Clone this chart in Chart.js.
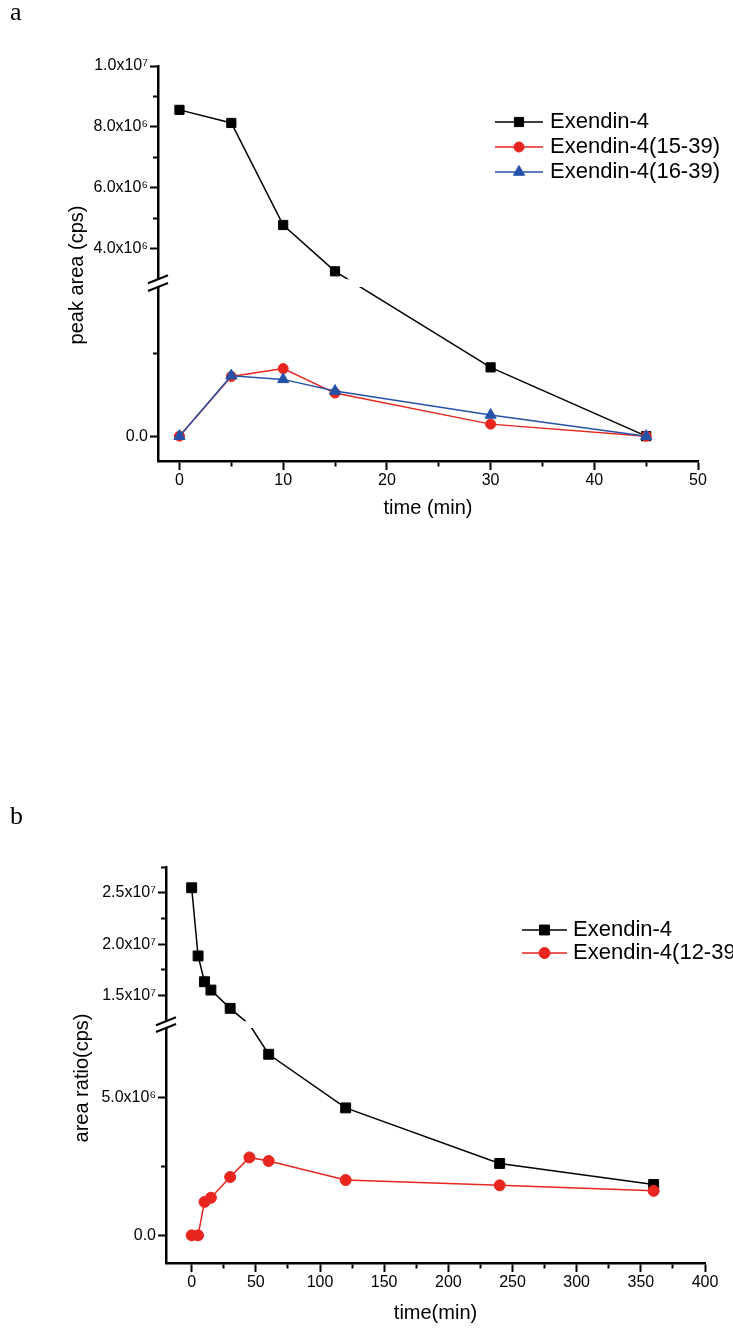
<!DOCTYPE html>
<html>
<head>
<meta charset="utf-8">
<script src="https://cdn.jsdelivr.net/npm/chart.js@4.4.1/dist/chart.umd.min.js"></script>
<style>
  body { margin: 0; background: #fff; }
  #page { position: relative; width: 733px; height: 1330px; }
  canvas { position: absolute; left: 0; }
  .tag { position: absolute; left: 10px; font: 26px 'Liberation Serif', 'DejaVu Serif', serif; line-height: 26px; }
</style>
</head>
<body>
<div id="page">
  <canvas id="chartA" width="733" height="540" style="top:0"></canvas>
  <canvas id="chartB" width="733" height="530" style="top:800px"></canvas>
  <div class="tag" style="top:-1px">a</div>
  <div class="tag" style="top:803px">b</div>
</div>
<script>
// panel a: peak area vs time
const aTime = [0, 5, 10, 15, 30, 45];
const aExendin4 = [8.56e6, 8.13e6, 4.78e6, 3.26e6, 0.83e6, 0];
const aExendin15to39 = [0, 0.72e6, 0.815e6, 0.52e6, 0.145e6, 0];
const aExendin16to39 = [0, 0.73e6, 0.685e6, 0.545e6, 0.255e6, 0];

const aXTicks = [0, 5, 10, 15, 20, 25, 30, 35, 40, 45, 50];
const aXLabels = ['0', '', '10', '', '20', '', '30', '', '40', '', '50'];
const aYTicks = [0, 1e6, 4e6, 5e6, 6e6, 7e6, 8e6, 9e6, 1e7];
const aYLabels = ['0.0', '', '4.0x10⁶', '', '6.0x10⁶', '', '8.0x10⁶', '', '1.0x10⁷'];

// panel b: area ratio vs time
const bTime = [0, 5, 10, 15, 30, 45, 60, 120, 240, 360];
const bExendin4 = [2.548e7, 1.885e7, 1.634e7, 1.553e7, 1.375e7, 1.0e7, 6.55e6, 4.61e6, 2.60e6, 1.84e6];
const bExendin12to39 = [0, 0, 1.21e6, 1.36e6, 2.11e6, 2.82e6, 2.69e6, 2.00e6, 1.81e6, 1.61e6];

const bXTicks = [0, 25, 50, 75, 100, 125, 150, 175, 200, 225, 250, 275, 300, 325, 350, 375, 400];
const bXLabels = ['0', '', '50', '', '100', '', '150', '', '200', '', '250', '', '300', '', '350', '', '400'];
const bYTicks = [0, 2.5e6, 5e6, 1.5e7, 1.75e7, 2e7, 2.25e7, 2.5e7, 2.75e7];
const bYLabels = ['0.0', '', '5.0x10⁶', '1.5x10⁷', '', '2.0x10⁷', '', '2.5x10⁷', ''];

const RED = '#e8251f';
const BLUE = '#2452a8';
const FONT = "'Liberation Sans', Arial, sans-serif";

Chart.defaults.font.family = FONT;
Chart.defaults.color = '#000';

// linear axis with a break: lower and upper segments, small gap between
class BrokenScale extends Chart.LinearScale {
  breakPixels() {
    const b = this.options.broken;
    const h = this.bottom - this.top;
    const lowTop = this.bottom - h * b.lowerFrac;
    const upBottom = lowTop - h * b.gapFrac;
    return { lowTop, upBottom };
  }
  getPixelForValue(value) {
    if (value === null || value === undefined || isNaN(value)) return NaN;
    const b = this.options.broken;
    const { lowTop, upBottom } = this.breakPixels();
    if (value <= b.lowMax) {
      return this.bottom - (value - b.lowMin) / (b.lowMax - b.lowMin) * (this.bottom - lowTop);
    }
    if (value >= b.upMin) {
      return upBottom - (value - b.upMin) / (b.upMax - b.upMin) * (upBottom - this.top);
    }
    return lowTop - (value - b.lowMax) / (b.upMin - b.lowMax) * (lowTop - upBottom);
  }
  getValueForPixel(pixel) {
    const b = this.options.broken;
    const { lowTop, upBottom } = this.breakPixels();
    if (pixel >= lowTop) {
      return b.lowMin + (this.bottom - pixel) / (this.bottom - lowTop) * (b.lowMax - b.lowMin);
    }
    if (pixel <= upBottom) {
      return b.upMin + (upBottom - pixel) / (upBottom - this.top) * (b.upMax - b.upMin);
    }
    return b.lowMax + (lowTop - pixel) / (lowTop - upBottom) * (b.upMin - b.lowMax);
  }
}
BrokenScale.id = 'broken';
BrokenScale.defaults = Chart.LinearScale.defaults;
Chart.register(BrokenScale);

// white gap across the plot + the // mark on the axis
const brokenAxisPlugin = {
  id: 'brokenAxis',
  afterDatasetsDraw(chart) {
    const { lowTop, upBottom } = chart.scales.y.breakPixels();
    const ca = chart.chartArea;
    const ctx = chart.ctx;
    ctx.save();
    ctx.fillStyle = '#fff';
    ctx.fillRect(ca.left - 12, upBottom, ca.right - ca.left + 12, lowTop - upBottom);
    ctx.strokeStyle = '#000';
    ctx.lineWidth = 2;
    [upBottom, lowTop].forEach(yy => {
      ctx.beginPath();
      ctx.moveTo(ca.left - 10, yy + 4);
      ctx.lineTo(ca.left + 10, yy - 4);
      ctx.stroke();
    });
    ctx.restore();
  }
};

// origin-style legend: line sample with marker in the middle
const lineLegendPlugin = {
  id: 'lineLegend',
  afterDraw(chart, args, opts) {
    const ctx = chart.ctx;
    chart.data.datasets.forEach((ds, i) => {
      const y = opts.top + i * opts.rowGap;
      const x0 = opts.left;
      const x1 = opts.left + opts.lineLength;
      ctx.save();
      ctx.strokeStyle = ds.borderColor;
      ctx.lineWidth = ds.borderWidth;
      ctx.beginPath();
      ctx.moveTo(x0, y);
      ctx.lineTo(x1, y);
      ctx.stroke();
      ctx.fillStyle = ds.pointBackgroundColor;
      ctx.strokeStyle = ds.pointBorderColor;
      ctx.lineWidth = 1;
      Chart.helpers.drawPoint(ctx, { pointStyle: ds.pointStyle, radius: ds.markerRadius, rotation: 0, borderWidth: 1 }, (x0 + x1) / 2, y);
      ctx.fillStyle = '#000';
      ctx.font = opts.font;
      ctx.textAlign = 'left';
      ctx.textBaseline = 'middle';
      ctx.fillText(ds.label, x1 + opts.textGap, y);
      ctx.restore();
    });
  }
};

const yTitlePlugin = {
  id: 'yTitle',
  afterDraw(chart, args, opts) {
    const ctx = chart.ctx;
    ctx.save();
    ctx.translate(opts.x, opts.y);
    ctx.rotate(-Math.PI / 2);
    ctx.font = opts.font;
    ctx.fillStyle = '#000';
    ctx.textAlign = 'center';
    ctx.textBaseline = 'middle';
    ctx.fillText(opts.text, 0, 0);
    ctx.restore();
  }
};

function series(label, xs, ys, color, style, radius, order, hideRange) {
  return {
    label: label,
    data: xs.map((x, i) => ({ x: x, y: ys[i] })),
    borderColor: color,
    backgroundColor: color,
    borderWidth: 1.5,
    pointStyle: style,
    markerRadius: radius,
    pointRadius: hideRange
      ? (c => (c.raw && c.raw.y > hideRange[0] && c.raw.y < hideRange[1]) ? 0 : radius)
      : radius,
    pointBackgroundColor: color,
    pointBorderColor: color,
    pointBorderWidth: 1,
    tension: 0,
    order: order
  };
}

function makeChart(id, cfg) {
  const minorX = c => (c.tick && c.tick.label === '') ? [4, 100] : [];
  const minorY = c => (c.tick && c.tick.label === '') ? [0, 3, 6, 100] : [];
  return new Chart(document.getElementById(id), {
    type: 'line',
    data: { datasets: cfg.datasets },
    plugins: [brokenAxisPlugin, lineLegendPlugin, yTitlePlugin],
    options: {
      responsive: false,
      animation: false,
      events: [],
      layout: { padding: cfg.padding },
      plugins: {
        legend: { display: false },
        tooltip: { enabled: false },
        lineLegend: cfg.legend,
        yTitle: cfg.yTitle
      },
      scales: {
        x: {
          type: 'linear',
          min: cfg.xMin,
          max: cfg.xMax,
          afterBuildTicks: s => { s.ticks = cfg.xTicks.map(v => ({ value: v })); },
          afterFit: s => { s.height = cfg.xHeight; },
          ticks: {
            autoSkip: false,
            maxRotation: 0,
            padding: 1,
            font: { size: 16 },
            callback: (v, i) => cfg.xLabels[i]
          },
          grid: {
            drawOnChartArea: false,
            tickLength: 9,
            tickColor: '#000',
            tickWidth: 2,
            tickBorderDash: minorX
          },
          border: { color: '#000', width: 2.5 },
          title: {
            display: true,
            text: cfg.xTitle,
            font: { size: 20 },
            padding: { top: 0, bottom: cfg.xTitlePad }
          }
        },
        y: {
          type: 'broken',
          min: cfg.broken.lowMin,
          max: cfg.broken.upMax,
          broken: cfg.broken,
          afterBuildTicks: s => { s.ticks = cfg.yTicks.map(v => ({ value: v })); },
          afterFit: s => { s.width = cfg.yWidth; },
          ticks: {
            autoSkip: false,
            padding: 2,
            font: { size: 16 },
            callback: (v, i) => cfg.yLabels[i]
          },
          grid: {
            drawOnChartArea: false,
            tickLength: 8,
            tickColor: '#000',
            tickWidth: 2,
            tickBorderDash: minorY
          },
          border: { color: '#000', width: 2.5 }
        }
      }
    }
  });
}

const LEGEND_FONT = "22px 'Liberation Sans', Arial, sans-serif";

makeChart('chartA', {
  datasets: [
    series('Exendin-4', aTime, aExendin4, '#000', 'rect', 6.5, 3),
    series('Exendin-4(15-39)', aTime, aExendin15to39, RED, 'circle', 5, 2),
    series('Exendin-4(16-39)', aTime, aExendin16to39, BLUE, 'triangle', 6.5, 1)
  ],
  padding: { top: 66, right: 35, left: 0, bottom: 0 },
  xMin: -2.07, xMax: 50,
  xTicks: aXTicks, xLabels: aXLabels,
  yTicks: aYTicks, yLabels: aYLabels,
  broken: { lowMin: -0.3e6, lowMax: 1.8e6, upMin: 3e6, upMax: 1e7, lowerFrac: 0.4405, gapFrac: 0.0197 },
  xHeight: 79, yWidth: 158,
  xTitle: 'time (min)', xTitlePad: 20,
  yTitle: { text: 'peak area (cps)', x: 77, y: 275, font: "20px 'Liberation Sans', Arial, sans-serif" },
  legend: { left: 495, top: 122, rowGap: 25, lineLength: 48, textGap: 7, font: LEGEND_FONT }
});

makeChart('chartB', {
  datasets: [
    series('Exendin-4', bTime, bExendin4, '#000', 'rect', 7, 2, [7.5e6, 1.25e7]),
    series('Exendin-4(12-39)', bTime, bExendin12to39, RED, 'circle', 5.5, 1)
  ],
  padding: { top: 67, right: 28, left: 0, bottom: 0 },
  xMin: -20, xMax: 400,
  xTicks: bXTicks, xLabels: bXLabels,
  yTicks: bYTicks, yLabels: bYLabels,
  broken: { lowMin: -1e6, lowMax: 7.5e6, upMin: 1.25e7, upMax: 2.75e7, lowerFrac: 0.5934, gapFrac: 0.0172 },
  xHeight: 67, yWidth: 166,
  xTitle: 'time(min)', xTitlePad: 5,
  yTitle: { text: 'area ratio(cps)', x: 82, y: 278, font: "20px 'Liberation Sans', Arial, sans-serif" },
  legend: { left: 522, top: 130, rowGap: 23, lineLength: 45, textGap: 6, font: LEGEND_FONT }
});
</script>
</body>
</html>
